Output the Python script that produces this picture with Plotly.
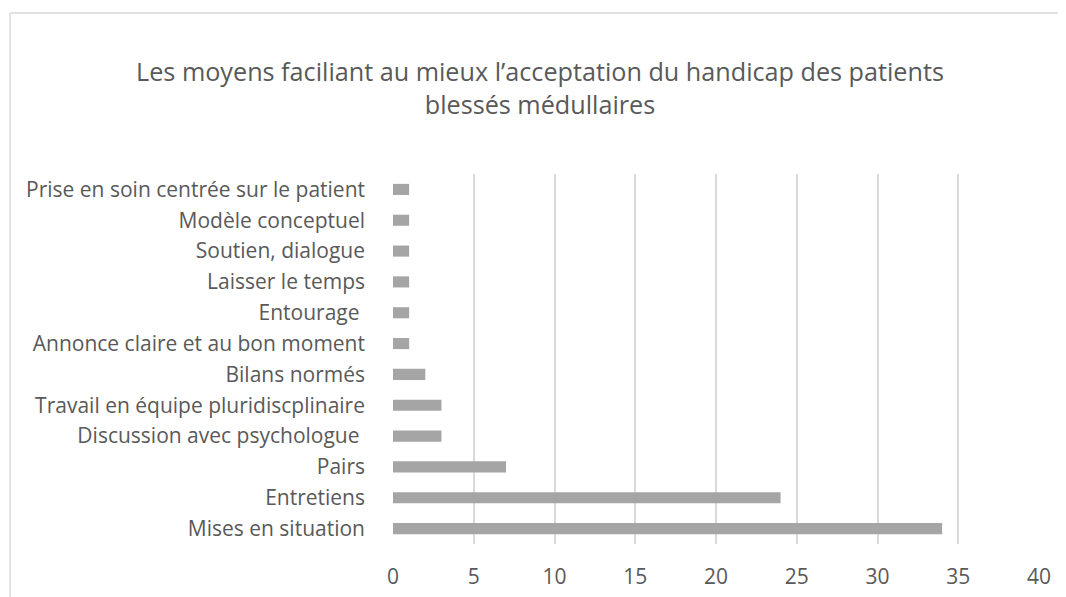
import plotly.graph_objects as go

categories = [
    "Prise en soin centrée sur le patient",
    "Modèle conceptuel",
    "Soutien, dialogue",
    "Laisser le temps",
    "Entourage ",
    "Annonce claire et au bon moment",
    "Bilans normés",
    "Travail en équipe pluridiscplinaire",
    "Discussion avec psychologue ",
    "Pairs",
    "Entretiens",
    "Mises en situation",
]
values = [1, 1, 1, 1, 1, 1, 2, 3, 3, 7, 24, 34]
x_ticks = [0, 5, 10, 15, 20, 25, 30, 35, 40]

title_text = "Les moyens faciliant au mieux l’acceptation du handicap des patients<br>blessés médullaires"

FONT = "Open Sans"
TXT = "#595959"

fig = go.Figure(
    go.Bar(
        x=values,
        y=categories,
        orientation="h",
        marker=dict(color="#a5a5a5", line=dict(width=0)),
    )
)

OFF = 8  # page body margin
W, H = 1066 - OFF, 597 - OFF
# target screen coords of plot area
SX0, SX1, SY0, SY1 = 393, 1039, 174, 544
L = SX0 - OFF
R = W - (SX1 - OFF)
T = SY0 - OFF
B = H - (SY1 - OFF)
pw, ph = W - L - R, H - T - B

def px_x(sp):
    return (sp - SX0) / pw

def px_y(sp):
    return (SY1 - sp) / ph

fig.update_layout(
    width=W,
    height=H,
    margin=dict(l=L, r=R, t=T, b=B, autoexpand=False),
    paper_bgcolor="white",
    plot_bgcolor="white",
    bargap=0.64,
    showlegend=False,
    font=dict(family=FONT, color=TXT, size=21),
    title=dict(
        text=title_text,
        x=(540 - OFF) / W,
        xanchor="center",
        y=1 - 73 / H,
        yanchor="top",
        font=dict(family=FONT, size=25.2, color=TXT),
    ),
    xaxis=dict(
        range=[0, 40],
        tickvals=x_ticks,
        showgrid=True,
        gridcolor="#d9d9d9",
        gridwidth=1.5,
        zeroline=False,
        showline=False,
        ticks="",
        automargin=False,
        ticklabelstandoff=18,
        tickfont=dict(family=FONT, size=21, color=TXT),
    ),
    yaxis=dict(
        autorange="reversed",
        showgrid=False,
        zeroline=False,
        showline=False,
        ticks="",
        automargin=False,
        ticklabelstandoff=27,
        tickfont=dict(family=FONT, size=21, color=TXT),
    ),
    shapes=[
        dict(type="line", xref="paper", yref="paper",
             x0=px_x(10), x1=px_x(1080), y0=px_y(13), y1=px_y(13),
             line=dict(color="#d9d9d9", width=1.5)),
        dict(type="line", xref="paper", yref="paper",
             x0=px_x(10), x1=px_x(10), y0=px_y(13), y1=px_y(610),
             line=dict(color="#d9d9d9", width=1.5)),
    ],
)

fig.write_html("out.html")
